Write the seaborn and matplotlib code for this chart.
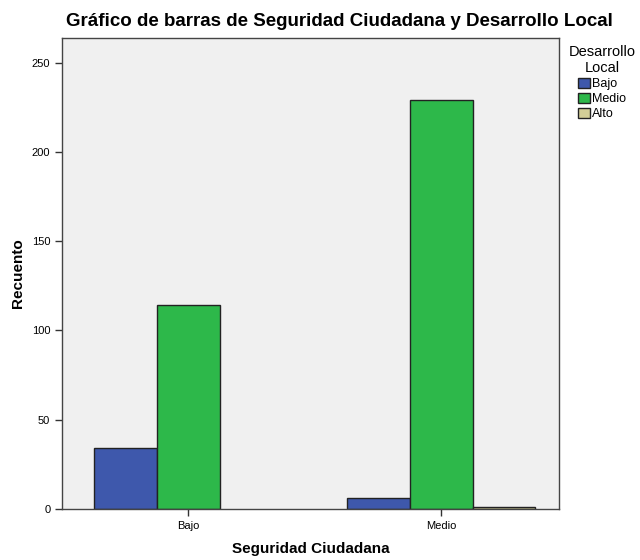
import matplotlib
matplotlib.use("Agg")
import matplotlib.pyplot as plt
import pandas as pd
import seaborn as sns

seguridad = ["Bajo", "Bajo", "Bajo", "Medio", "Medio", "Medio"]
desarrollo = ["Bajo", "Medio", "Alto", "Bajo", "Medio", "Alto"]
recuento = [34, 114, 0, 6, 229, 1]

df = pd.DataFrame({"Seguridad": seguridad, "Desarrollo": desarrollo, "Recuento": recuento})

sns.set_style("white", {"text.color": "black", "axes.labelcolor": "black",
                        "xtick.color": "black", "ytick.color": "black"})
plt.rcParams['font.family'] = ['Liberation Sans', 'DejaVu Sans']

fig = plt.figure(figsize=(6.4, 5.6), dpi=100)
ax = fig.add_axes([0.097, 0.091, 0.776, 0.842])
ax.set_facecolor("#f0f0f0")

palette = {"Bajo": "#3e58ac", "Medio": "#2db84a", "Alto": "#d3ce97"}
sns.barplot(data=df, x="Seguridad", y="Recuento", hue="Desarrollo",
            hue_order=["Bajo", "Medio", "Alto"], order=["Bajo", "Medio"],
            palette=palette, saturation=1, width=0.745, edgecolor="#222222",
            linewidth=1, ax=ax, legend=True)

ax.set_ylim(0, 264)
ax.set_xlim(-0.5, 1.465)
ax.set_yticks(range(0, 251, 50))
ax.tick_params(axis="both", labelsize=8, length=5, width=1, color="#333333", direction="out",
               bottom=True, left=True)
for s in ax.spines.values():
    s.set_color("#444444")
    s.set_linewidth(1)

ax.set_xlabel("Seguridad Ciudadana", fontsize=11, fontweight="bold", labelpad=8)
ax.set_ylabel("Recuento", fontsize=11, fontweight="bold", labelpad=5)
fig.text(0.531, 0.962, "Gráfico de barras de Seguridad Ciudadana y Desarrollo Local",
         fontsize=13.5, fontweight="bold", ha="center", va="center")

leg = ax.legend(title="Desarrollo\nLocal", loc="upper left", bbox_to_anchor=(1.005, 1.0),
                frameon=False, fontsize=9, title_fontsize=10.5, handlelength=0.9,
                handleheight=0.9, handletextpad=0.2, labelspacing=0.2, borderaxespad=0.2)
leg.get_title().set_multialignment("center")
for h in leg.legend_handles:
    h.set_edgecolor("#222222")
    h.set_visible(True)

# bars with zero count are not drawn in the original
for p in ax.patches:
    if p.get_height() == 0:
        p.set_visible(False)

fig.savefig("out.png", dpi=100)
